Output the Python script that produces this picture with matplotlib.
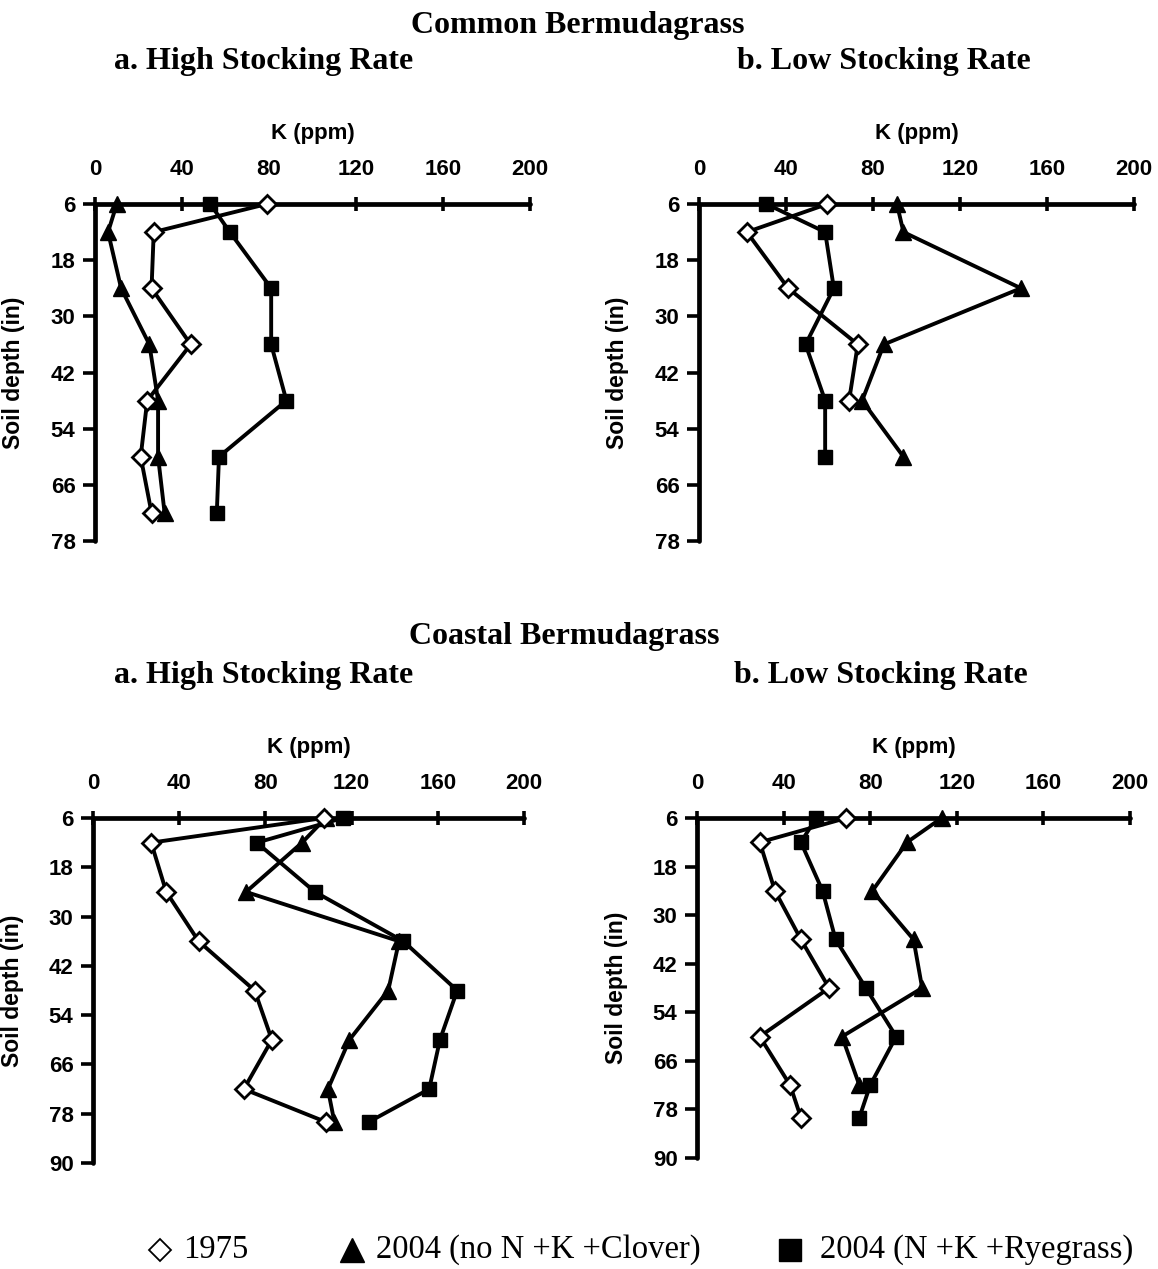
import matplotlib
matplotlib.use("Agg")
import matplotlib.pyplot as plt
from matplotlib.lines import Line2D

# depths (in) of the sampled layers
depth_top = [6, 12, 24, 36, 48, 60, 72]
depth_bot = [6, 12, 24, 36, 48, 60, 72, 80]

# K (ppm)
common_high_1975 = [79, 27, 26, 44, 24, 21, 26]
common_high_clover = [10, 6, 12, 25, 29, 29, 32]
common_high_rye = [53, 62, 81, 81, 88, 57, 56]

common_low_1975 = [59, 22, 41, 73, 69]
common_low_clover = [91, 94, 148, 85, 75, 94]
common_low_rye = [31, 58, 62, 49, 58, 58]

coastal_high_1975 = [107, 27, 34, 49, 75, 83, 70, 108]
coastal_high_clover = [108, 97, 71, 142, 137, 119, 109, 112]
coastal_high_rye = [116, 76, 103, 144, 169, 161, 156, 128]

coastal_low_1975 = [69, 29, 36, 48, 61, 29, 43, 48]
coastal_low_clover = [113, 97, 81, 100, 104, 67, 75]
coastal_low_rye = [55, 48, 58, 64, 78, 92, 80, 75]

x_ticks = [0, 40, 80, 120, 160, 200]
legend_labels = ["1975", "2004 (no N +K +Clover)", "2004 (N +K +Ryegrass)"]

SANS = "Liberation Sans"
SERIF = "Liberation Serif"
LW = 2.8

W, H = 1158, 1269
fig = plt.figure(figsize=(W / 100, H / 100), dpi=100)


def px_axes(x0, x1, y0, y1):
    return fig.add_axes([x0 / W, 1 - y1 / H, (x1 - x0) / W, (y1 - y0) / H])


def panel(ax, ymax, s1975, sclov, srye):
    ax.plot(srye, depth_bot[:len(srye)], "-s", color="black", lw=LW, ms=10,
            clip_on=False, zorder=3)
    ax.plot(sclov, depth_bot[:len(sclov)], "-^", color="black", lw=LW, ms=11.5,
            clip_on=False, zorder=4)
    ax.plot(s1975, depth_bot[:len(s1975)], "-D", color="black", lw=LW, ms=9.5,
            mfc="white", mec="black", mew=2, clip_on=False, zorder=5)
    ax.set_xlim(0, 200)
    ax.set_ylim(ymax, 6)
    ax.set_xticks(x_ticks)
    ax.set_yticks(list(range(6, ymax + 1, 12)))
    for s in ("right", "bottom"):
        ax.spines[s].set_visible(False)
    for s in ("top", "left"):
        ax.spines[s].set_linewidth(3.4)
        ax.spines[s].set_capstyle("round")
    ax.xaxis.tick_top()
    ax.xaxis.set_label_position("top")
    ax.tick_params(axis="x", direction="inout", length=10, width=2.6, pad=12)
    ax.tick_params(axis="y", direction="out", length=9, width=2.6, pad=5)
    for lab in ax.get_xticklabels() + ax.get_yticklabels():
        lab.set_fontfamily(SANS)
        lab.set_fontweight("bold")
        lab.set_fontsize(16)
    ax.set_xlabel("K (ppm)", fontfamily=SANS, fontweight="bold", fontsize=16,
                  labelpad=15)
    ax.set_ylabel("Soil depth (in)", fontfamily=SANS, fontweight="bold",
                  fontsize=16.5)
    ax.yaxis.set_label_coords(-0.16, 0.5)
    ax.patch.set_alpha(0)


ax1 = px_axes(95, 530, 204, 541)
panel(ax1, 78, common_high_1975, common_high_clover, common_high_rye)
ax2 = px_axes(699, 1134, 204, 541)
panel(ax2, 78, common_low_1975, common_low_clover, common_low_rye)
ax3 = px_axes(93, 524, 818, 1163)
panel(ax3, 90, coastal_high_1975, coastal_high_clover, coastal_high_rye)
ax4 = px_axes(697, 1130, 818, 1158)
panel(ax4, 90, coastal_low_1975, coastal_low_clover, coastal_low_rye)

title_kw = dict(fontfamily=SERIF, fontweight="bold", fontsize=23,
                ha="center", va="center")
fig.text(578 / W, 1 - 26 / H, "Common Bermudagrass", **title_kw)
fig.text(264 / W, 1 - 62 / H, "a. High Stocking Rate", **title_kw)
fig.text(884 / W, 1 - 62 / H, "b. Low Stocking Rate", **title_kw)
fig.text(564 / W, 1 - 637 / H, "Coastal Bermudagrass", **title_kw)
fig.text(264 / W, 1 - 675 / H, "a. High Stocking Rate", **title_kw)
fig.text(881 / W, 1 - 675 / H, "b. Low Stocking Rate", **title_kw)

# legend: marker + label placed along the bottom row
leg_y = 1 - 1250 / H
leg_markers = [
    dict(marker="D", ms=11, mfc="white", mec="black", mew=1.3),
    dict(marker="^", ms=17, mfc="black", mec="black"),
    dict(marker="s", ms=16, mfc="black", mec="black"),
]
leg_marker_x = [160, 352, 790]
leg_text_x = [183, 376, 820]
for style, mx, tx, lab in zip(leg_markers, leg_marker_x, leg_text_x, legend_labels):
    fig.add_artist(Line2D([mx / W], [leg_y], ls="none", transform=fig.transFigure,
                          **style))
    fig.text(tx / W, leg_y, lab, fontfamily=SERIF, fontsize=23.5,
             ha="left", va="center")

fig.savefig("out.png", dpi=100)
